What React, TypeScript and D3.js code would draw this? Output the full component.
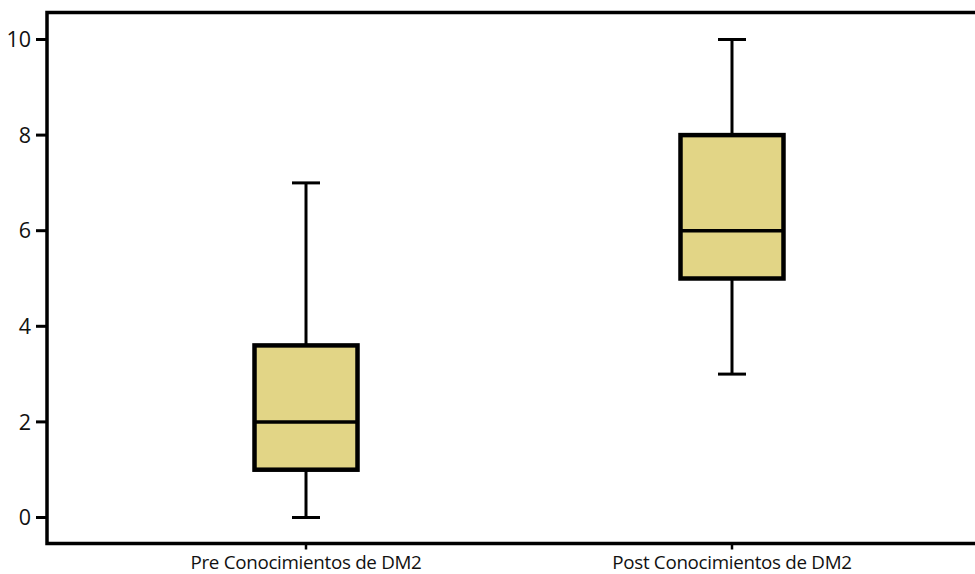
import React from "react";
import * as d3 from "d3";

const categories = ["Pre Conocimientos de DM2", "Post Conocimientos de DM2"];
const whiskerLow = [0, 3];
const q1 = [1, 5];
const median = [2, 6];
const q3 = [3.6, 8];
const whiskerHigh = [7, 10];
const yTicks = [0, 2, 4, 6, 8, 10];

const W = 975;
const H = 574;
const left = 47;
const right = 991;
const top = 12.5;
const bottom = 543.5;

export default function App() {
  const x = d3.scalePoint<string>().domain(categories).range([left, right]).padding(0.608);
  const y = d3.scaleLinear().domain([0, 10]).range([517.5, 39.5]);
  const boxW = 103;
  const capW = 28;
  const fill = "#e2d586";
  const font = "'Open Sans', sans-serif";
  return (
    <svg width={W} height={H} style={{ position: "absolute", left: 0, top: 0, background: "#fff" }}>
      <path d={`M${left},${bottom} L${left},${top} L${right},${top} L${right},${bottom} Z`} fill="none" stroke="#000" strokeWidth={3.5} />
      {yTicks.map((t) => (
        <g key={t}>
          <line x1={left - 11} x2={left} y1={y(t)} y2={y(t)} stroke="#000" strokeWidth={3} />
          <text x={31} y={y(t)} dy="0.36em" textAnchor="end" fontFamily={font} fontSize={21.5} fill="#111">
            {t}
          </text>
        </g>
      ))}
      {categories.map((c) => (
        <g key={c}>
          <line x1={x(c)} x2={x(c)} y1={bottom} y2={bottom + 6} stroke="#000" strokeWidth={2.5} />
          <text x={x(c)} y={568.5} textAnchor="middle" fontFamily={font} fontSize={18.8} fill="#111" letterSpacing={-0.3}>
            {c}
          </text>
        </g>
      ))}
      {categories.map((c, i) => {
        const cx = x(c) as number;
        return (
          <g key={c}>
            <line x1={cx} x2={cx} y1={y(whiskerHigh[i])} y2={y(q3[i])} stroke="#000" strokeWidth={3} />
            <line x1={cx} x2={cx} y1={y(q1[i])} y2={y(whiskerLow[i])} stroke="#000" strokeWidth={3} />
            <line x1={cx - capW / 2} x2={cx + capW / 2} y1={y(whiskerHigh[i])} y2={y(whiskerHigh[i])} stroke="#000" strokeWidth={3} />
            <line x1={cx - capW / 2} x2={cx + capW / 2} y1={y(whiskerLow[i])} y2={y(whiskerLow[i])} stroke="#000" strokeWidth={3} />
            <rect x={cx - boxW / 2} y={y(q3[i])} width={boxW} height={y(q1[i]) - y(q3[i])} fill={fill} stroke="#000" strokeWidth={4.5} />
            <line x1={cx - boxW / 2} x2={cx + boxW / 2} y1={y(median[i])} y2={y(median[i])} stroke="#000" strokeWidth={3.5} />
          </g>
        );
      })}
    </svg>
  );
}
